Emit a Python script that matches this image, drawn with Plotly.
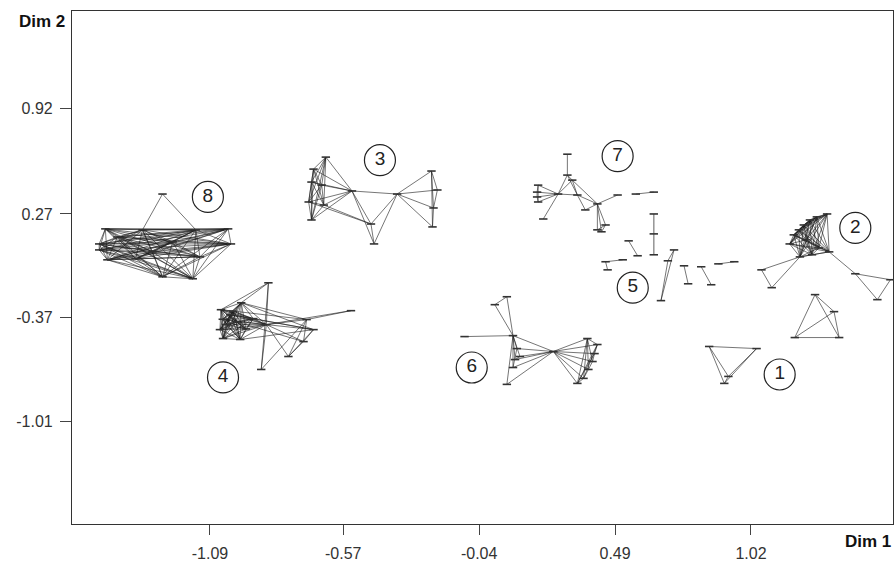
import itertools
import plotly.graph_objects as go

# ---- axis ticks ----
x_ticks = [-1.09, -0.57, -0.04, 0.49, 1.02]
y_ticks = [0.92, 0.27, -0.37, -1.01]

# ---- cluster 8 ----
c8_x = [-1.275, -1.498, -1.522, -1.522, -1.490, -1.380, -1.275, -1.157, -1.129, -1.019, -1.008, -1.145, -1.353, -1.451, -1.235, -1.314]
c8_y = [0.393, 0.178, 0.085, 0.048, -0.013, -0.007, -0.118, -0.130, 0.005, 0.178, 0.085, 0.172, 0.172, 0.128, 0.098, 0.036]
c8_edges = [(0, 12), (0, 11)]
c8_dense = list(range(1, 16))

# ---- cluster 4 ----
c4_x = [-0.862, -0.968, -1.047, -1.051, -1.039, -0.972, -0.870, -0.713, -0.686, -0.725, -0.540, -0.784, -0.890, -1.011, -0.988, -1.027, -0.921, -1.000, -0.950, -1.040]
c4_y = [-0.155, -0.278, -0.321, -0.444, -0.499, -0.505, -0.413, -0.382, -0.444, -0.518, -0.327, -0.610, -0.690, -0.352, -0.395, -0.413, -0.376, -0.330, -0.440, -0.380]
c4_edges = [(0, 1), (0, 2), (0, 6), (0, 12), (1, 7), (6, 7), (6, 8), (5, 8), (16, 8), (6, 9), (7, 10), (6, 10),
            (7, 9), (8, 9), (7, 11), (8, 11), (6, 11), (12, 6), (12, 7), (9, 11), (14, 9), (1, 8), (2, 7), (13, 8)]
c4_dense = [1, 2, 3, 4, 5, 6, 13, 14, 15, 16, 17, 18, 19]

# ---- cluster 3 ----
c3_x = [-0.638, -0.686, -0.694, -0.705, -0.694, -0.646, -0.654, -0.536, -0.462, -0.450, -0.360, -0.226, -0.203, -0.218, -0.222]
c3_y = [0.621, 0.547, 0.467, 0.344, 0.233, 0.325, 0.448, 0.412, 0.208, 0.085, 0.393, 0.535, 0.418, 0.307, 0.190]
c3_edges = [(7, 0), (7, 1), (7, 2), (7, 3), (7, 4), (7, 5), (7, 6), (7, 8), (7, 9), (8, 9), (7, 10), (10, 8), (10, 9),
            (10, 11), (10, 12), (10, 13), (10, 14), (11, 12), (12, 13), (13, 14), (11, 14), (11, 13), (3, 8), (5, 8)]
c3_dense = [0, 1, 2, 3, 4, 5, 6]

# ---- cluster 6 ----
c6_x = [0.068, 0.021, -0.097, 0.092, 0.107, 0.100, 0.119, 0.092, 0.068, 0.249, 0.382, 0.421, 0.410, 0.402, 0.386, 0.367, 0.343]
c6_y = [-0.241, -0.290, -0.487, -0.481, -0.561, -0.629, -0.610, -0.678, -0.782, -0.579, -0.499, -0.536, -0.592, -0.641, -0.690, -0.745, -0.776]
c6_edges = [(0, 1), (0, 3), (1, 3), (2, 3), (3, 4), (3, 5), (3, 6), (3, 7), (3, 8), (4, 7), (5, 6),
            (9, 3), (9, 4), (9, 5), (9, 6), (9, 7), (9, 8),
            (9, 10), (9, 11), (9, 12), (9, 13), (9, 14), (9, 15), (9, 16),
            (10, 11), (11, 12), (12, 13), (13, 14), (14, 15), (15, 16), (10, 16), (10, 15), (10, 14),
            (10, 13), (11, 16), (12, 16), (11, 15)]

# ---- cluster 7 ----
c7_x = [0.304, 0.304, 0.323, 0.268, 0.190, 0.186, 0.186, 0.190, 0.210, 0.343, 0.421, 0.500, 0.374, 0.421, 0.453, 0.437, 0.571, 0.641]
c7_y = [0.639, 0.510, 0.479, 0.393, 0.448, 0.405, 0.375, 0.344, 0.239, 0.387, 0.332, 0.387, 0.295, 0.172, 0.202, 0.160, 0.393, 0.405]
c7_edges = [(0, 1), (1, 2), (1, 3), (2, 3), (1, 9), (2, 9), (3, 4), (3, 5), (3, 6), (3, 7), (4, 5), (5, 6), (6, 7),
            (4, 7), (3, 8), (3, 9), (9, 10), (9, 12), (12, 10), (10, 11), (10, 13), (10, 14), (10, 15),
            (13, 14), (14, 15), (13, 15), (2, 10), (16, 17)]

# ---- cluster 5 ----
c5_x = [0.641, 0.641, 0.641, 0.543, 0.578, 0.453, 0.520, 0.461, 0.720, 0.696, 0.669, 0.759, 0.775, 0.826, 0.865, 0.893, 0.955]
c5_y = [0.270, 0.147, 0.018, 0.104, 0.012, -0.025, -0.013, -0.075, 0.048, -0.019, -0.265, -0.050, -0.161, -0.056, -0.167, -0.038, -0.025]
c5_edges = [(3, 4), (5, 6), (5, 7), (8, 9), (8, 10), (9, 10), (11, 12), (13, 14), (15, 16)]
c5_gray_edges = [(0, 1), (1, 2)]

# ---- cluster 2 ----
c2_x = [1.317, 1.187, 1.207, 1.226, 1.250, 1.277, 1.171, 1.211, 1.258, 1.325, 1.061, 1.101, 1.427, 1.564, 1.513, 1.270, 1.344, 1.191, 1.364, 1.235, 1.285]
c2_y = [0.270, 0.141, 0.172, 0.202, 0.233, 0.252, 0.085, 0.005, 0.018, 0.036, -0.075, -0.185, -0.099, -0.136, -0.259, -0.228, -0.333, -0.493, -0.493, 0.110, 0.060]
c2_edges = [(7, 10), (7, 11), (10, 11), (9, 12), (12, 13), (12, 14), (13, 14),
            (15, 16), (15, 17), (15, 18), (16, 17), (16, 18), (17, 18)]
c2_dense = [0, 1, 2, 3, 4, 5, 6, 7, 8, 9, 19, 20]

# ---- cluster 1 ----
c1_x = [0.857, 1.042, 0.932, 0.916]
c1_y = [-0.548, -0.561, -0.733, -0.776]
c1_edges = [(0, 1), (0, 2), (0, 3), (1, 2), (1, 3), (2, 3)]

# ---- circled cluster labels ----
label_text = ["8", "3", "7", "2", "5", "4", "6", "1"]
label_x = [-1.098, -0.427, 0.500, 1.427, 0.559, -1.039, -0.069, 1.132]
label_y = [0.375, 0.602, 0.627, 0.184, -0.185, -0.739, -0.678, -0.721]

clusters = [
    (c8_x, c8_y, c8_edges, c8_dense),
    (c4_x, c4_y, c4_edges, c4_dense),
    (c3_x, c3_y, c3_edges, c3_dense),
    (c6_x, c6_y, c6_edges, []),
    (c7_x, c7_y, c7_edges, []),
    (c5_x, c5_y, c5_edges, []),
    (c2_x, c2_y, c2_edges, c2_dense),
    (c1_x, c1_y, c1_edges, []),
]

ex, ey = [], []
nx, ny = [], []
for xs, ys, edges, dense in clusters:
    all_edges = list(edges) + list(itertools.combinations(dense, 2))
    for a, b in all_edges:
        ex += [xs[a], xs[b], None]
        ey += [ys[a], ys[b], None]
    nx += xs
    ny += ys

gx, gy = [], []
for a, b in c5_gray_edges:
    gx += [c5_x[a], c5_x[b], None]
    gy += [c5_y[a], c5_y[b], None]

FONT = "Liberation Sans, Arial, Helvetica"

fig = go.Figure()
fig.add_trace(go.Scatter(x=ex, y=ey, mode="lines", line=dict(color="#1a1a1a", width=0.6),
                         hoverinfo="skip", showlegend=False))
fig.add_trace(go.Scatter(x=gx, y=gy, mode="lines", line=dict(color="#999999", width=1.6),
                         hoverinfo="skip", showlegend=False))
fig.add_trace(go.Scatter(x=nx, y=ny, mode="markers",
                         marker=dict(symbol="line-ew", size=6, line=dict(color="#333333", width=1.6)),
                         hoverinfo="skip", showlegend=False))
fig.add_trace(go.Scatter(x=label_x, y=label_y, mode="markers+text", text=label_text,
                         textposition="middle center",
                         textfont=dict(family=FONT, size=19, color="#222"),
                         marker=dict(symbol="circle-open", size=31, color="#222", line=dict(width=1.2, color="#222")),
                         hoverinfo="skip", showlegend=False))

axis_common = dict(showgrid=False, zeroline=False, showline=True, linecolor="#333", linewidth=1.2,
                   mirror=True, ticks="outside", tickcolor="#444", automargin=False,
                   tickfont=dict(family=FONT, size=16, color="#333"))
fig.update_xaxes(range=[-1.628, 1.574], tickvals=x_ticks, ticktext=[f"{v:.2f}" for v in x_ticks],
                 ticklen=10, ticklabelstandoff=5, **axis_common)
fig.update_yaxes(range=[-1.644, 1.523], tickvals=y_ticks, ticktext=[f"{v:.2f}" for v in y_ticks],
                 ticklen=11, ticklabelstandoff=4, **axis_common)

fig.add_annotation(text="<b>Dim 2</b>", xref="paper", yref="paper", x=-0.006, y=1.0, xanchor="right",
                   yanchor="middle", showarrow=False, yshift=-10,
                   font=dict(family=FONT, size=17, color="#111"))
fig.add_annotation(text="<b>Dim 1</b>", xref="paper", yref="paper", x=1.0, y=0, xanchor="right",
                   yanchor="middle", showarrow=False, yshift=-17,
                   font=dict(family=FONT, size=17, color="#111"))

fig.update_layout(width=895, height=563, margin=dict(l=72, r=2, t=11, b=39, autoexpand=False),
                  plot_bgcolor="white", paper_bgcolor="white")
fig.write_html("out.html", config={"displayModeBar": False},
               post_script="document.body.style.margin='0';document.body.style.overflow='hidden';")
